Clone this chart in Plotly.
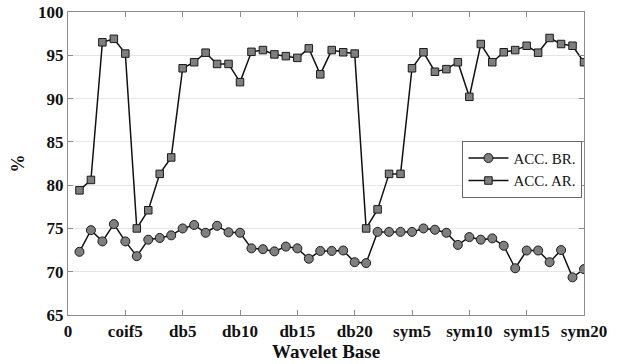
import plotly.graph_objects as go

# Wavelet index along the x axis (1..45): coif1-5, db1-20, sym1-20
idx = list(range(1, 46))

acc_br = [72.3, 74.8, 73.5, 75.5, 73.5, 71.8, 73.7, 73.9, 74.2, 75.0,
          75.4, 74.5, 75.3, 74.55, 74.5, 72.7, 72.6, 72.35, 72.9, 72.7,
          71.5, 72.4, 72.4, 72.45, 71.1, 71.0, 74.6, 74.6, 74.6, 74.6,
          75.0, 74.85, 74.5, 73.1, 74.0, 73.7, 73.85, 73.0, 70.4, 72.45,
          72.45, 71.1, 72.5, 69.35, 70.3]

acc_ar = [79.4, 80.6, 96.5, 96.9, 95.2, 75.0, 77.1, 81.3, 83.2, 93.5,
          94.2, 95.3, 94.0, 94.0, 91.9, 95.4, 95.6, 95.1, 94.9, 94.7,
          95.8, 92.8, 95.6, 95.35, 95.2, 75.0, 77.2, 81.3, 81.3, 93.5,
          95.35, 93.1, 93.4, 94.2, 90.2, 96.3, 94.2, 95.35, 95.6, 96.1,
          95.3, 97.0, 96.3, 96.1, 94.2]

tick_vals = [0, 5, 10, 15, 20, 25, 30, 35, 40, 45]
tick_text = ["0", "coif5", "db5", "db10", "db15", "db20", "sym5", "sym10", "sym15", "sym20"]

serif = "Liberation Serif, Times New Roman, Times, serif"
marker_fill = "#7f7f7f"
marker_edge = "#1a1a1a"

fig = go.Figure()
fig.add_trace(go.Scatter(
    x=idx, y=acc_br, name="ACC. BR.", mode="lines+markers",
    line=dict(color="#111111", width=1.5),
    marker=dict(symbol="circle", size=9, color=marker_fill,
                line=dict(color=marker_edge, width=1)),
))
fig.add_trace(go.Scatter(
    x=idx, y=acc_ar, name="ACC. AR.", mode="lines+markers",
    line=dict(color="#111111", width=1.5),
    marker=dict(symbol="square", size=7.5, color=marker_fill,
                line=dict(color=marker_edge, width=1)),
))

axis_common = dict(
    showline=True, linecolor="#8c8c8c", linewidth=1.2, mirror="ticks",
    ticks="inside", ticklen=5, tickcolor="#8c8c8c",
    zeroline=False, automargin=False,
)

fig.update_layout(
    width=618, height=364,
    margin=dict(l=68, r=34, t=12, b=49),
    paper_bgcolor="white", plot_bgcolor="white",
    font=dict(family=serif, color="#111111"),
    showlegend=True,
    legend=dict(
        x=0.997, y=0.575, xanchor="right", yanchor="top",
        bgcolor="white", bordercolor="#666666", borderwidth=1,
        font=dict(family=serif, size=15, color="#111111"),
        tracegroupgap=0, itemwidth=40,
    ),
    xaxis=dict(
        range=[0, 45], tickvals=tick_vals, ticktext=tick_text,
        showgrid=False,
        tickfont=dict(family=serif, size=17, color="#111111", weight="bold"),
        **axis_common,
    ),
    yaxis=dict(
        range=[65, 100], tickvals=[65, 70, 75, 80, 85, 90, 95, 100],
        showgrid=True, gridcolor="#e6e6e6", gridwidth=1,
        tickfont=dict(family=serif, size=17, color="#111111", weight="bold"),
        **axis_common,
    ),
    annotations=[
        dict(text="<b>Wavelet Base</b>", xref="paper", yref="paper",
             x=0.5, y=-0.122, xanchor="center", yanchor="middle", showarrow=False,
             font=dict(family=serif, size=19, color="#111111")),
        dict(text="<b>%</b>", xref="paper", yref="paper",
             x=-0.097, y=0.5, xanchor="center", yanchor="middle", showarrow=False,
             textangle=-90, font=dict(family=serif, size=18, color="#111111")),
    ],
)

fig.write_html("out.html")
